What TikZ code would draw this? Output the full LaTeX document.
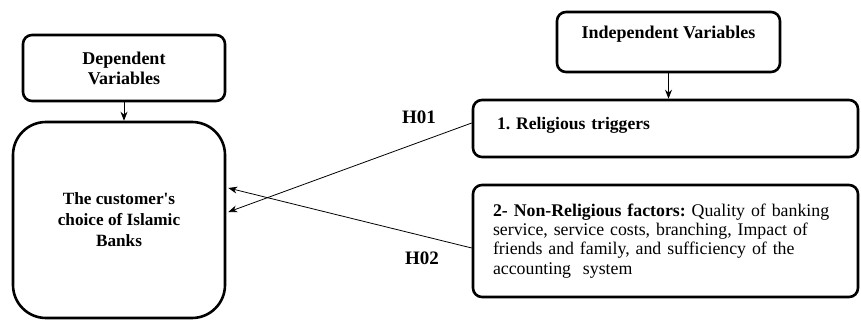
\documentclass[tikz,border=0pt]{standalone}
\usepackage{fontspec}
\setmainfont{Liberation Serif}
\usetikzlibrary{arrows.meta,calc}
\frenchspacing
\begin{document}
\begin{tikzpicture}[x=1pt,y=-1pt,
  box/.style={draw,line width=2.6pt,rounded corners=9pt,inner sep=0pt},
  conn/.style={line width=0.8pt,-{Stealth[length=9pt,width=7pt]}},
  hfnt/.style={font=\bfseries\fontsize{18}{20}\selectfont},
  bfnt/.style={font=\bfseries\fontsize{17.6}{19.5}\selectfont},
  nfnt/.style={font=\fontsize{17.8}{19.3}\selectfont}]
\useasboundingbox (0,0) rectangle (861,320);
\node[box,hfnt,align=center,minimum width=202pt,minimum height=66pt] (dep) at (124,68) {Dependent\\Variables};
\node[box,align=center,rounded corners=33pt,minimum width=212pt,minimum height=196pt,font=\bfseries\fontsize{17.2}{21}\selectfont] (big) at (119,220) {The customer\textquotesingle s\\choice of Islamic\\Banks};
\node[box,hfnt,minimum width=223pt,minimum height=60pt,text depth=20pt] (ind) at (668.5,42) {Independent Variables};
\node[box,bfnt,align=left,text width=337pt,inner xsep=24pt,minimum height=57pt,text depth=11pt] (rel) at (665.5,128.5) {1. Religious triggers};
\node[box,nfnt,align=left,text width=345pt,inner xsep=20pt,xshift=4pt,minimum height=112pt] (nonrel) at (661.5,241) {\textbf{2- Non-Religious factors:} Quality of banking\\service, service costs, branching, Impact of\\friends and family, and sufficiency of the\\accounting\ \ system};
\node[font=\bfseries\fontsize{19}{20}\selectfont] (h1) at (419,117) {H01};
\node[font=\bfseries\fontsize{19}{20}\selectfont] (h2) at (422,258) {H02};
\draw[conn] (dep.south) -- (dep.south |- big.north);
\draw[conn] (ind.south) -- (ind.south |- rel.north);
\draw[conn] ($(rel.west)+(0,-5.5)$) -- ($(big.east)+(2,-8)$);
\draw[conn] ($(nonrel.west)+(0,7)$) -- ($(big.east)+(2,-32)$);
\end{tikzpicture}
\end{document}
